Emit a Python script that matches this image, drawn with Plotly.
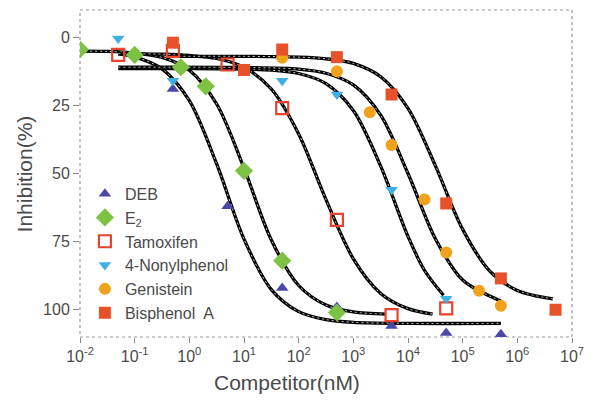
import plotly.graph_objects as go

# ---------------- data ----------------
deb_x = [0.5, 5, 50, 500, 5000, 50000, 500000]
deb_y = [19, 62, 92, 99, 106, 108.5, 109]

e2_x = [0.01, 0.1, 0.7, 2, 10, 50, 500]
e2_y = [4.5, 6.5, 11, 18, 49, 82, 101]

tam_x = [0.05, 0.5, 5, 50, 500, 5000, 50000]
tam_y = [6.5, 5, 10, 26, 67, 102, 99.5]

non_x = [0.05, 0.5, 50, 500, 5000, 50000]
non_y = [0.5, 16, 16, 21, 56, 96]

gen_x = [50, 500, 2000, 5000, 20000, 50000, 200000, 500000]
gen_y = [7.5, 12.5, 27.5, 39.5, 59.5, 79, 93, 98.5]

bpa_x = [0.5, 10, 50, 500, 5000, 50000, 500000, 5000000]
bpa_y = [2, 12, 4.5, 7.3, 21, 61, 88.5, 100]

# fitted curves (x as log10 exponent)
deb_fit_e = [-1.3, -1, -0.5, 0, 0.5, 1, 1.5, 2, 2.5, 3, 4, 5.7]
deb_fit_y = [6.1, 7.2, 11.6, 23.3, 46.5, 74.1, 92.6, 100.7, 103.6, 104.6, 105, 105]
e2_fit_e = [-2, -1.5, -1, -0.5, 0, 0.5, 1, 1.5, 2, 2.5, 3, 3.6]
e2_fit_y = [5.1, 5.2, 5.8, 7.4, 12.1, 24.5, 48, 74.4, 91.1, 98.3, 100.8, 101.6]
tam_fit_e = [-1.3, -0.5, 0, 0.5, 1, 1.5, 2, 2.5, 3, 3.5, 4, 4.45]
tam_fit_y = [6, 6.2, 6.7, 7.8, 11, 19, 35.5, 59.6, 81.3, 94, 99.6, 101.6]
non_fit_e = [-1.3, 0, 1, 1.5, 2, 2.5, 3, 3.5, 4, 4.3, 4.65]
non_fit_y = [11.5, 11.5, 11.7, 12.1, 13.3, 17, 26.9, 47.3, 73.1, 85.5, 94.7]
gen_fit_e = [-1.3, 1, 2, 2.5, 3, 3.5, 4, 4.5, 5, 5.7]
gen_fit_y = [11, 11.1, 11.7, 13.2, 17.5, 28.6, 50, 73.9, 89.1, 96.8]
bpa_fit_e = [-0.3, 1, 2, 2.5, 3, 3.5, 4, 4.5, 5, 5.5, 6, 6.65]
bpa_fit_y = [7, 7, 7.3, 7.9, 9.6, 14.5, 26.1, 47.1, 70.5, 85.9, 92.9, 96]

x_tick_exp = [-2, -1, 0, 1, 2, 3, 4, 5, 6, 7]
y_ticks = [0, 25, 50, 75, 100]

# ---------------- figure ----------------
FONT = "Arial, Liberation Sans, sans-serif"
TXT = "#4a4a4a"
fig = go.Figure()

for e, y in [(deb_fit_e, deb_fit_y), (e2_fit_e, e2_fit_y), (tam_fit_e, tam_fit_y),
             (non_fit_e, non_fit_y), (gen_fit_e, gen_fit_y), (bpa_fit_e, bpa_fit_y)]:
    xs = [10 ** v for v in e]
    fig.add_trace(go.Scatter(x=xs, y=y, mode="lines", showlegend=False, hoverinfo="skip",
                             line=dict(color="black", width=3.3, shape="spline", smoothing=0.9)))
    fig.add_trace(go.Scatter(x=xs, y=y, mode="lines", showlegend=False, hoverinfo="skip",
                             line=dict(color="white", width=0.8, dash="2px,3px", shape="spline", smoothing=0.9)))

series = [
    ("DEB", deb_x, deb_y, dict(symbol="triangle-up", size=11, color="#4a48a8")),
    ("E<sub>2</sub>", e2_x, e2_y, dict(symbol="diamond", size=14, color="#7dc242")),
    ("Tamoxifen", tam_x, tam_y, dict(symbol="square-open", size=12, color="#e8432e", line=dict(width=2.2, color="#e8432e"))),
    ("4-Nonylphenol", non_x, non_y, dict(symbol="triangle-down", size=11, color="#3fb0e4")),
    ("Genistein", gen_x, gen_y, dict(symbol="circle", size=12, color="#f0a31a")),
    ("Bisphenol  A", bpa_x, bpa_y, dict(symbol="square", size=12, color="#e8522a")),
]
for name, xs, ys, mk in series:
    fig.add_trace(go.Scatter(x=xs, y=ys, mode="markers", name=name, marker=mk))

# page body has an 8px default margin, so the figure is offset by 8px
fig.update_layout(
    width=585, height=392,
    margin=dict(l=72, r=21, t=2, b=63, autoexpand=False),
    paper_bgcolor="white", plot_bgcolor="white",
    font=dict(family=FONT, size=16, color=TXT),
    showlegend=True,
    legend=dict(x=0.01, y=0.49, xanchor="left", yanchor="top",
                bgcolor="rgba(0,0,0,0)", font=dict(size=16, color=TXT),
                tracegroupgap=0, itemwidth=30),
    xaxis=dict(type="log", range=[-2, 7], showgrid=False, zeroline=False, automargin=False,
               tickvals=[10 ** v for v in x_tick_exp],
               ticktext=["10<sup>%d</sup>" % v for v in x_tick_exp],
               ticks="outside", ticklen=5, tickcolor="#888", showline=False,
               tickfont=dict(size=16, color=TXT)),
    yaxis=dict(range=[110, -10], showgrid=False, zeroline=False, automargin=False,
               tickvals=y_ticks, ticks="outside", ticklen=6, tickcolor="#888",
               showline=False, tickfont=dict(size=16, color=TXT)),
    shapes=[dict(type="rect", xref="paper", yref="paper", x0=0, x1=1, y0=0, y1=1,
                 line=dict(color="#999", width=1.2, dash="dot"), layer="below")],
    annotations=[
        dict(text="Competitor(nM)", xref="paper", yref="paper", x=0.42, y=-0.138,
             xanchor="center", yanchor="middle", showarrow=False,
             font=dict(size=21, color=TXT, family=FONT)),
        dict(text="Inhibition(%)", xref="paper", yref="paper", x=-0.112, y=0.50,
             xanchor="center", yanchor="middle", showarrow=False, textangle=-90,
             font=dict(size=21, color=TXT, family=FONT)),
    ],
)

fig.write_html("out.html")
